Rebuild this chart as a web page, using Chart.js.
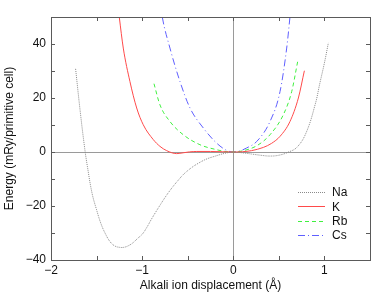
<!DOCTYPE html>
<html>
<head>
<meta charset="utf-8">
<script src="https://cdn.jsdelivr.net/npm/chart.js@4.4.1/dist/chart.umd.min.js"></script>
<style>
    body { margin: 0; background: #fff; }
    #wrap { width: 382px; height: 295px; }
</style>
</head>
<body>
<div id="wrap"><canvas id="chart" width="382" height="295"></canvas></div>
<script>
// Energy curves (displacement in Å, energy in mRy/cell)
const naX = [-1.73, -1.68, -1.63, -1.6, -1.55, -1.5, -1.45, -1.4, -1.35, -1.3, -1.25, -1.2, -1.15, -1.1, -1.05, -1.0, -0.95, -0.9, -0.85, -0.8, -0.75, -0.7, -0.65, -0.6, -0.55, -0.5, -0.45, -0.4, -0.3, -0.2, -0.1, 0, 0.1, 0.2, 0.3, 0.4, 0.5, 0.6, 0.7, 0.8, 0.9, 0.95, 1.0, 1.043];
const naY = [30.8, 15.2, 1.3, -5.5, -15.2, -21.4, -26.7, -30.5, -33.3, -34.8, -35.3, -35.3, -34.7, -33.6, -32, -30.5, -28, -25, -22.2, -19.5, -16.9, -14.5, -12.3, -10.3, -8.4, -6.9, -5.6, -4.5, -2.7, -1.55, -0.55, 0, -0.3, -0.75, -1.2, -1.5, -1.2, -0.1, 1.8, 7.2, 17.8, 25.5, 33, 40.4];

const kX = [-1.28, -1.251, -1.207, -1.134, -1.06, -0.988, -0.878, -0.805, -0.731, -0.621, -0.55, -0.48, -0.4, -0.25, -0.12, 0, 0.1, 0.2, 0.33, 0.42, 0.513, 0.622, 0.714, 0.78];
const kY = [58, 50, 38.5, 26.1, 16.3, 10.1, 4.6, 2.1, 0.5, -0.6, -0.3, 0.05, 0.2, 0.2, 0.1, 0, 0.1, 0.5, 1.7, 3.2, 5.8, 11.3, 20, 30.1];

const rbX = [-0.87, -0.805, -0.695, -0.549, -0.366, -0.183, -0.09, 0, 0.1, 0.257, 0.403, 0.549, 0.641, 0.707];
const rbY = [25.3, 17.5, 11.3, 6.4, 2.7, 0.85, 0.2, 0, 0.4, 2.3, 6.4, 13.8, 22.4, 33.6];

const csX = [-0.8, -0.779, -0.695, -0.585, -0.475, -0.329, -0.183, -0.073, 0, 0.073, 0.147, 0.257, 0.403, 0.513, 0.586, 0.622, 0.64];
const csY = [55, 50, 38.5, 26.1, 16.3, 8.9, 3.3, 0.6, 0, 0.4, 1.5, 3.9, 11.3, 22.4, 38.5, 50, 56];

const seriesNames = ['Na', 'K', 'Rb', 'Cs'];
const xTicks = [-2, -1.5, -1, -0.5, 0, 0.5, 1, 1.5];
const yTicks = [-40, -30, -20, -10, 0, 10, 20, 30, 40, 50];

const FONT = 'Liberation Sans, Arial, Helvetica, sans-serif';

function toPoints(xs, ys) {
    return xs.map((x, i) => ({ x: x, y: ys[i] }));
}

function minusSign(v) {
    return String(v).replace('-', '\u2212');
}

// zero lines under the curves
const zeroLines = {
    id: 'zeroLines',
    beforeDatasetsDraw(chart) {
        const { ctx, chartArea: a, scales: { x, y } } = chart;
        const px = Math.round(x.getPixelForValue(0)) + 0.5;
        const py = Math.round(y.getPixelForValue(0)) + 0.5;
        ctx.save();
        ctx.strokeStyle = '#9a9a9a';
        ctx.lineWidth = 1;
        ctx.beginPath();
        ctx.moveTo(a.left, py);
        ctx.lineTo(a.right, py);
        ctx.moveTo(px, a.top);
        ctx.lineTo(px, a.bottom);
        ctx.stroke();
        ctx.restore();
    }
};

// box with inward ticks on all sides
const frame = {
    id: 'frame',
    afterDatasetsDraw(chart) {
        const { ctx, chartArea: a, scales: { x, y } } = chart;
        const len = 4;
        ctx.save();
        ctx.strokeStyle = '#5a5a5a';
        ctx.lineWidth = 1;
        ctx.beginPath();
        xTicks.forEach(v => {
            const p = Math.round(x.getPixelForValue(v)) + 0.5;
            ctx.moveTo(p, a.bottom);
            ctx.lineTo(p, a.bottom - len);
            ctx.moveTo(p, a.top);
            ctx.lineTo(p, a.top + len);
        });
        yTicks.forEach(v => {
            const p = Math.round(y.getPixelForValue(v)) + 0.5;
            ctx.moveTo(a.left, p);
            ctx.lineTo(a.left + len, p);
            ctx.moveTo(a.right, p);
            ctx.lineTo(a.right - len, p);
        });
        ctx.stroke();
        ctx.strokeRect(Math.round(a.left) + 0.5, Math.round(a.top) + 0.5,
            Math.round(a.right - a.left), Math.round(a.bottom - a.top));
        ctx.restore();
    }
};

// key in the lower right of the plot
const keyBox = {
    id: 'keyBox',
    afterDraw(chart) {
        const { ctx, chartArea: a } = chart;
        const x0 = a.right - 72, x1 = a.right - 45, tx = a.right - 38;
        let yy = a.top + 175;
        ctx.save();
        ctx.font = '12px ' + FONT;
        ctx.textBaseline = 'middle';
        ctx.fillStyle = '#111';
        chart.data.datasets.forEach(ds => {
            ctx.strokeStyle = ds.borderColor;
            ctx.lineWidth = ds.borderWidth;
            ctx.setLineDash(ds.borderDash || []);
            ctx.beginPath();
            ctx.moveTo(x0, Math.round(yy) + 0.5);
            ctx.lineTo(x1, Math.round(yy) + 0.5);
            ctx.stroke();
            ctx.fillText(ds.label, tx, yy + 1);
            yy += 14.3;
        });
        ctx.restore();
    }
};

const seriesData = [toPoints(naX, naY), toPoints(kX, kY), toPoints(rbX, rbY), toPoints(csX, csY)];
const colors = ['#8a8a8a', '#ff4a4a', '#40f040', '#5f5fff'];
const dashes = [[1, 1], [], [4, 3], [7, 3, 1, 3]];
const modes = ['default', 'monotone', 'monotone', 'monotone'];

new Chart(document.getElementById('chart'), {
    type: 'line',
    data: {
        datasets: seriesNames.map((name, i) => ({
            label: name,
            data: seriesData[i],
            borderColor: colors[i],
            borderWidth: 1,
            borderDash: dashes[i],
            pointRadius: 0,
            fill: false,
            tension: 0.4,
            cubicInterpolationMode: modes[i]
        }))
    },
    options: {
        responsive: false,
        animation: false,
        layout: { padding: { top: 17, right: 12, left: 0, bottom: 0 } },
        plugins: {
            legend: { display: false },
            tooltip: { enabled: false }
        },
        scales: {
            x: {
                type: 'linear',
                min: -2,
                max: 1.5,
                afterFit: s => { s.height = 35; },
                afterBuildTicks: s => { s.ticks = xTicks.map(v => ({ value: v })); },
                grid: { display: false, drawTicks: false },
                border: { display: false },
                ticks: {
                    padding: 3,
                    color: '#111',
                    font: { family: FONT, size: 12 },
                    maxRotation: 0,
                    autoSkip: false,
                    callback: v => Number.isInteger(v) ? minusSign(v) : ''
                },
                title: {
                    display: true,
                    text: 'Alkali ion displacement (Å)',
                    color: '#111',
                    font: { family: FONT, size: 12 },
                    padding: { top: 0, bottom: 2 }
                }
            },
            y: {
                type: 'linear',
                min: -40,
                max: 50,
                afterFit: s => { s.width = 51; },
                afterBuildTicks: s => { s.ticks = yTicks.map(v => ({ value: v })); },
                grid: { display: false, drawTicks: false },
                border: { display: false },
                ticks: {
                    padding: 5,
                    color: '#111',
                    font: { family: FONT, size: 12 },
                    autoSkip: false,
                    callback: v => v % 20 === 0 ? minusSign(v) : ''
                },
                title: {
                    display: true,
                    text: 'Energy (mRy/primitive cell)',
                    color: '#111',
                    font: { family: FONT, size: 12 },
                    padding: { top: 2, bottom: 0 }
                }
            }
        }
    },
    plugins: [zeroLines, frame, keyBox]
});
</script>
</body>
</html>
